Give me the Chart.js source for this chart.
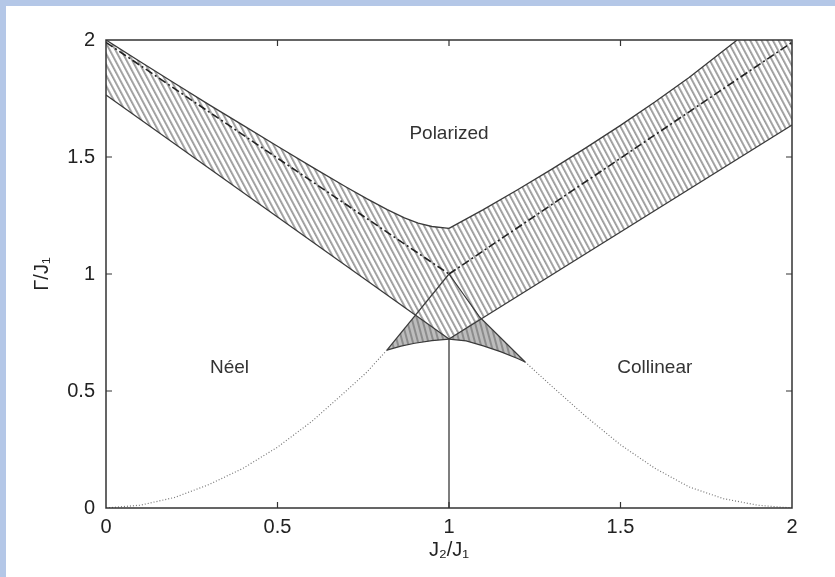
<!DOCTYPE html>
<html>
<head>
<meta charset="utf-8">
<script src="https://cdn.jsdelivr.net/npm/chart.js@4.4.1/dist/chart.umd.min.js"></script>
<style>
  html, body { margin: 0; padding: 0; }
  body { width: 835px; height: 577px; background: #b4c7e7; overflow: hidden; position: relative; }
  #marco { position: absolute; left: 6px; top: 6px; width: 829px; height: 571px; background: #fff; }
</style>
</head>
<body>
<div id="marco"><canvas id="miGrafico"></canvas></div>
<script>
// Marcas de los ejes
var xTicks = [0, 0.5, 1, 1.5, 2];
var yTicks = [0, 0.5, 1, 1.5, 2];

// Bordes de la banda (J2/J1, Gamma/J1)
var bordeSupIzq = [[0, 2.0], [0.1, 1.907], [0.2, 1.815], [0.3, 1.724], [0.4, 1.635], [0.5, 1.546], [0.6, 1.458],
  [0.7, 1.372], [0.76, 1.322], [0.82, 1.275], [0.87, 1.24], [0.91, 1.217], [0.95, 1.203], [1.0, 1.195]];
var bordeSupDer = [[1.0, 1.195], [1.1, 1.275], [1.2, 1.36], [1.3, 1.448], [1.4, 1.54], [1.5, 1.635],
  [1.6, 1.735], [1.7, 1.84], [1.84, 2.0]];
var esquinaSup = [[2, 2]];
var bordeInfIzq = [[0, 1.765], [1, 0.722]];
var bordeInfDer = [[1, 0.722], [2, 1.637]];

// Lineas de trazos y puntos
var trazoIzq = [[0, 1.99], [1, 1]];
var trazoDer = [[1, 1], [2, 1.99]];

// Lineas interiores y arcos de la cuspide
var interiorIzq = [[1, 1], [0.819, 0.675]];
var interiorDer = [[1, 1], [1.09, 0.815], [1.222, 0.624]];
var cruceIzq = [0.902, 0.823];
var cruceDer = [1.09, 0.812];
var arcoIzq = [[0.819, 0.675], [0.86, 0.692], [0.9, 0.704], [0.95, 0.715], [1.0, 0.722]];
var arcoDer = [[1.0, 0.722], [1.05, 0.714], [1.1, 0.693], [1.15, 0.668], [1.2, 0.639], [1.222, 0.624]];
var vertical = [[1, 0.722], [1, 0]];

// Curvas punteadas
var puntosIzq = [[0, 0], [0.1, 0.012], [0.2, 0.045], [0.3, 0.1], [0.4, 0.17], [0.5, 0.26], [0.6, 0.37], [0.7, 0.5], [0.76, 0.58], [0.819, 0.675]];
var puntosDer = [[1.222, 0.624], [1.3, 0.52], [1.4, 0.39], [1.5, 0.27], [1.6, 0.17], [1.7, 0.09], [1.8, 0.04], [1.9, 0.012], [2, 0]];

// Etiquetas de las fases
var fases = ['Polarized', 'Néel', 'Collinear'];
var faseX = [1.0, 0.36, 1.6];
var faseY = [1.6, 0.6, 0.6];

function aXY(arr) {
  return arr.map(function (p) { return { x: p[0], y: p[1] }; });
}

function rayado(fondo, raya, periodo, ancho, angulo) {
  var c = document.createElement('canvas');
  c.width = periodo; c.height = periodo;
  var g = c.getContext('2d');
  if (fondo) { g.fillStyle = fondo; g.fillRect(0, 0, periodo, periodo); }
  g.fillStyle = raya;
  g.fillRect(0, 0, ancho, periodo);
  var p = g.createPattern(c, 'repeat');
  p.setTransform(new DOMMatrix().rotateSelf(angulo));
  return p;
}

document.addEventListener('DOMContentLoaded', function () {
  var ctx = document.getElementById('miGrafico').getContext('2d');
  var fuente = { family: '"Liberation Sans", Arial, sans-serif', size: 20 };

  // Poligono de la banda rayada
  var banda = bordeSupIzq.concat(bordeSupDer.slice(1), esquinaSup,
    bordeInfDer.slice().reverse(), bordeInfIzq.slice().reverse().slice(1));
  // Triangulos grises
  var trianguloIzq = [interiorIzq[1], cruceIzq, bordeInfIzq[1]].concat(arcoIzq.slice().reverse().slice(1));
  var trianguloDer = [arcoDer[0], cruceDer, interiorDer[interiorDer.length - 1]].concat(arcoDer.slice().reverse().slice(1));

  var lineaOscura = { borderColor: '#3a3a3a', borderWidth: 1.3 };
  var lineaFina = { borderColor: '#3a3a3a', borderWidth: 1.2 };
  var trazo = { borderColor: '#222', borderWidth: 1.6, borderDash: [8, 3, 2, 3] };
  var punteado = { borderColor: '#777', borderWidth: 1.2, borderDash: [1, 2] };

  function serie(datos, estilo, orden) {
    return Object.assign({ data: aXY(datos), showLine: true, pointRadius: 0, fill: false, order: orden || 0 }, estilo);
  }

  function relleno(datos, patron) {
    return serie(datos, { borderColor: 'rgba(0,0,0,0)', borderWidth: 0, fill: 'shape', backgroundColor: patron }, 10);
  }

  var etiquetasPlugin = {
    id: 'etiquetas',
    afterDatasetsDraw: function (chart) {
      var c = chart.ctx, a = chart.chartArea, sx = chart.scales.x, sy = chart.scales.y;
      c.save();
      // Marco
      c.strokeStyle = '#333';
      c.lineWidth = 1.5;
      c.strokeRect(a.left, a.top, a.right - a.left, a.bottom - a.top);
      // Marcas hacia dentro
      c.lineWidth = 1.2;
      c.beginPath();
      xTicks.slice(1, -1).forEach(function (v) {
        var px = sx.getPixelForValue(v);
        c.moveTo(px, a.bottom); c.lineTo(px, a.bottom - 6);
        c.moveTo(px, a.top); c.lineTo(px, a.top + 6);
      });
      yTicks.slice(1, -1).forEach(function (v) {
        var py = sy.getPixelForValue(v);
        c.moveTo(a.left, py); c.lineTo(a.left + 6, py);
        c.moveTo(a.right, py); c.lineTo(a.right - 6, py);
      });
      c.stroke();
      // Nombres de las fases
      c.fillStyle = '#333';
      c.font = '19px "Liberation Sans", Arial, sans-serif';
      c.textAlign = 'center';
      c.textBaseline = 'middle';
      fases.forEach(function (t, i) {
        c.fillText(t, sx.getPixelForValue(faseX[i]), sy.getPixelForValue(faseY[i]));
      });
      c.restore();
    }
  };

  new Chart(ctx, {
    type: 'scatter',
    data: {
      datasets: [
        serie(bordeSupIzq, lineaOscura),
        serie(bordeSupDer, lineaOscura),
        serie(bordeInfIzq, lineaOscura),
        serie(bordeInfDer, lineaOscura),
        serie(interiorIzq, lineaFina),
        serie(interiorDer, lineaFina),
        serie(arcoIzq, lineaFina),
        serie(arcoDer, lineaFina),
        serie(vertical, lineaOscura),
        serie(trazoIzq, trazo),
        serie(trazoDer, trazo),
        serie(puntosIzq, punteado),
        serie(puntosDer, punteado),
        relleno(banda, rayado(null, '#999999', 5, 1.8, -28)),
        relleno(trianguloIzq, rayado('#bdbdbd', '#8c8c8c', 5, 2, -15)),
        relleno(trianguloDer, rayado('#bdbdbd', '#8c8c8c', 5, 2, -15))
      ]
    },
    options: {
      responsive: true,
      maintainAspectRatio: false,
      animation: false,
      events: [],
      layout: { padding: { top: 34, right: 43, left: 0, bottom: 0 } },
      plugins: { legend: { display: false }, tooltip: { enabled: false } },
      scales: {
        x: {
          type: 'linear', min: 0, max: 2,
          afterBuildTicks: function (s) { s.ticks = xTicks.map(function (v) { return { value: v }; }); },
          afterFit: function (s) { s.height = 69; },
          grid: { display: false, drawTicks: false },
          border: { display: false },
          ticks: { padding: 7, color: '#222', font: fuente, maxRotation: 0, autoSkip: false,
            callback: function (v) { return String(v); } },
          title: { display: true, text: 'J₂/J₁', color: '#222', font: fuente, padding: { top: 0, bottom: 15 } }
        },
        y: {
          type: 'linear', min: 0, max: 2,
          afterBuildTicks: function (s) { s.ticks = yTicks.map(function (v) { return { value: v }; }); },
          afterFit: function (s) { s.width = 100; },
          grid: { display: false, drawTicks: false },
          border: { display: false },
          ticks: { padding: 11, color: '#222', font: fuente, autoSkip: false,
            callback: function (v) { return String(v); } },
          title: { display: true, text: 'Γ/J₁', color: '#222', font: fuente, padding: { top: 24, bottom: 0 } }
        }
      }
    },
    plugins: [etiquetasPlugin]
  });
});
</script>
</body>
</html>
